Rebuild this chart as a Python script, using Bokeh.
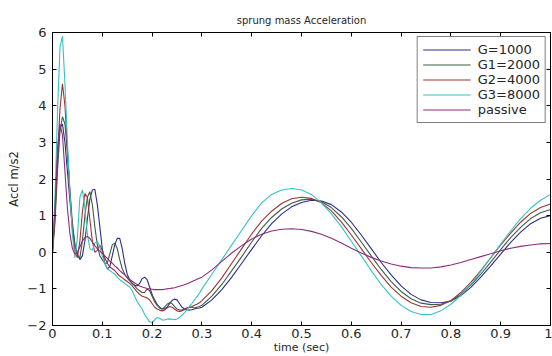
from bokeh.plotting import figure
from bokeh.models import FixedTicker, NumeralTickFormatter, LinearAxis, Legend, LegendItem, Range1d
from bokeh.embed import file_html
from bokeh.resources import INLINE

# ---------------- data ----------------
time_s = [
    0.000, 0.005, 0.010, 0.015, 0.020, 0.025, 0.030, 0.035, 0.040, 0.045,
    0.050, 0.055, 0.060, 0.065, 0.070, 0.075, 0.080, 0.085, 0.090, 0.095,
    0.100, 0.105, 0.110, 0.115, 0.120, 0.125, 0.130, 0.135, 0.140, 0.145,
    0.150, 0.155, 0.160, 0.165, 0.170, 0.175, 0.180, 0.185, 0.190, 0.195,
    0.200, 0.205, 0.210, 0.215, 0.220, 0.225, 0.230, 0.235, 0.240, 0.245,
    0.250, 0.255, 0.260, 0.265, 0.270, 0.275, 0.280, 0.285, 0.290, 0.295,
    0.300,
    0.32, 0.34, 0.36, 0.38, 0.40, 0.42, 0.44, 0.46, 0.48, 0.50,
    0.52, 0.54, 0.56, 0.58, 0.60, 0.62, 0.64, 0.66, 0.68, 0.70,
    0.72, 0.74, 0.76, 0.78, 0.80, 0.82, 0.84, 0.86, 0.88, 0.90,
    0.92, 0.94, 0.96, 0.98, 1.00,
]

acc_g1000 = [
    0, 1.1, 2.5, 3.4, 3.5, 3.0, 2.2, 1.4, 0.7, 0.2,
    -0.05, -0.2, -0.1, 0.3, 0.9, 1.45, 1.7, 1.72, 1.3, 0.7,
    0.1, -0.3, -0.45, -0.4, -0.1, 0.2, 0.38, 0.38, 0.1, -0.3,
    -0.6, -0.75, -0.85, -0.9, -0.92, -0.85, -0.72, -0.68, -0.75, -0.95,
    -1.15, -1.3, -1.42, -1.5, -1.55, -1.55, -1.5, -1.4, -1.32, -1.28,
    -1.3, -1.4, -1.5, -1.55, -1.57, -1.58, -1.57, -1.55, -1.53, -1.52,
    -1.5,
    -1.3, -1.02, -0.68, -0.3, 0.08, 0.45, 0.78, 1.04, 1.24, 1.36,
    1.42, 1.4, 1.3, 1.1, 0.82, 0.47, 0.1, -0.28, -0.62, -0.92,
    -1.15, -1.3, -1.37, -1.38, -1.33, -1.18, -0.96, -0.68, -0.37, -0.05,
    0.27, 0.55, 0.78, 0.93, 1.0,
]

acc_g2000 = [
    0, 0.8, 2.2, 3.3, 3.7, 3.5, 2.7, 1.7, 0.8, 0.2,
    -0.1, -0.15, 0.3, 1.0, 1.5, 1.65, 1.3, 0.7, 0.2, -0.1,
    -0.2, -0.3, -0.3, -0.05, 0.2, 0.25, 0.1, -0.2, -0.45, -0.6,
    -0.7, -0.78, -0.85, -0.92, -1.0, -1.05, -1.1, -1.1, -1.0, -1.05,
    -1.2, -1.35, -1.45, -1.52, -1.55, -1.5, -1.42, -1.38, -1.4, -1.48,
    -1.55, -1.58, -1.58, -1.55, -1.52, -1.5, -1.5, -1.52, -1.5, -1.48,
    -1.45,
    -1.2, -0.88, -0.5, -0.12, 0.28, 0.65, 0.95, 1.18, 1.34, 1.43,
    1.45, 1.38, 1.22, 0.97, 0.65, 0.28, -0.1, -0.47, -0.8, -1.07,
    -1.27, -1.39, -1.43, -1.42, -1.33, -1.15, -0.9, -0.6, -0.27, 0.07,
    0.4, 0.68, 0.92, 1.08, 1.17,
]

acc_g4000 = [
    0, 1.0, 2.6, 3.9, 4.6, 4.0, 2.8, 1.6, 0.6, 0.0,
    -0.15, 0.3, 1.1, 1.6, 1.5, 0.9, 0.3, 0.0, 0.05, 0.2,
    0.05, -0.15, -0.3, -0.4, -0.45, -0.5, -0.58, -0.65, -0.7, -0.75,
    -0.8, -0.85, -0.92, -1.0, -1.08, -1.15, -1.2, -1.22, -1.25, -1.3,
    -1.4, -1.5, -1.55, -1.58, -1.6, -1.58, -1.52, -1.48, -1.5, -1.55,
    -1.6, -1.62, -1.6, -1.57, -1.53, -1.5, -1.48, -1.45, -1.42, -1.38,
    -1.32,
    -1.05, -0.7, -0.3, 0.1, 0.5, 0.85, 1.12, 1.33, 1.46, 1.5,
    1.47, 1.35, 1.13, 0.83, 0.47, 0.1, -0.28, -0.63, -0.95, -1.2,
    -1.38, -1.48, -1.5, -1.45, -1.32, -1.1, -0.82, -0.5, -0.15, 0.2,
    0.52, 0.82, 1.06, 1.22, 1.32,
]

acc_g8000 = [
    0, 1.5, 3.8, 5.6, 5.9, 4.6, 3.0, 1.6, 0.5, -0.15,
    0.4, 1.5, 1.7, 1.2, 0.5, 0.1, 0.05, 0.25, 0.3, 0.15,
    -0.1, -0.3, -0.45, -0.5, -0.55, -0.6, -0.68, -0.75, -0.8, -0.85,
    -0.9, -0.95, -1.05, -1.2, -1.35, -1.45, -1.55, -1.7, -1.8, -1.9,
    -1.92, -1.85, -1.78, -1.8, -1.85, -1.85, -1.83, -1.82, -1.83, -1.84,
    -1.82, -1.78, -1.72, -1.65, -1.57, -1.47, -1.4, -1.3, -1.22, -1.12,
    -1.0,
    -0.6, -0.2, 0.2, 0.6, 1.0, 1.35, 1.58, 1.7, 1.74, 1.7,
    1.58, 1.35, 1.05, 0.7, 0.3, -0.1, -0.5, -0.88, -1.2, -1.45,
    -1.62, -1.7, -1.7, -1.6, -1.42, -1.18, -0.88, -0.52, -0.15, 0.22,
    0.58, 0.92, 1.2, 1.42, 1.58,
]

acc_passive = [
    0, 1.2, 2.8, 3.5, 3.2, 2.2, 1.2, 0.5, 0.1, -0.05,
    0.0, 0.15, 0.3, 0.4, 0.43, 0.38, 0.28, 0.18, 0.1, 0.03,
    -0.03, -0.1, -0.17, -0.24, -0.3, -0.37, -0.43, -0.5, -0.56, -0.62,
    -0.68, -0.74, -0.79, -0.84, -0.88, -0.92, -0.95, -0.97, -0.99, -1.0,
    -1.01, -1.02, -1.02, -1.02, -1.02, -1.01, -1.0, -0.99, -0.98, -0.97,
    -0.95, -0.93, -0.91, -0.89, -0.86, -0.83, -0.8, -0.77, -0.74, -0.71,
    -0.68,
    -0.48, -0.25, -0.02, 0.18, 0.36, 0.49, 0.58, 0.63, 0.64, 0.62,
    0.57, 0.49, 0.38, 0.25, 0.11, -0.02, -0.14, -0.24, -0.32, -0.38,
    -0.42, -0.43, -0.43, -0.4, -0.35, -0.28, -0.2, -0.12, -0.04, 0.04,
    0.11, 0.16, 0.2, 0.23, 0.24,
]

series_names = ["G=1000", "G1=2000", "G2=4000", "G3=8000", "passive"]
series_values = [acc_g1000, acc_g2000, acc_g4000, acc_g8000, acc_passive]
series_colors = ["#2a2f86", "#3d5e44", "#9c3434", "#36c2c4", "#8c2d7e"]

x_ticks = [0, 0.1, 0.2, 0.3, 0.4, 0.5, 0.6, 0.7, 0.8, 0.9, 1]
y_ticks = [-2, -1, 0, 1, 2, 3, 4, 5, 6]

title_text = "sprung mass Acceleration"
x_label = "time (sec)"
y_label = "Accl m/s2"

# ---------------- figure ----------------
FONT = "DejaVu Sans"
TXT = "#262626"

p = figure(width=552, height=356, output_backend="svg", toolbar_location=None,
           x_range=Range1d(0, 1), y_range=Range1d(-2, 6),
           min_border_left=52, min_border_right=2, min_border_top=32, min_border_bottom=31,
           background_fill_color="white", border_fill_color="white")

p.title.text = title_text
p.title.align = "center"
p.title.text_font = FONT
p.title.text_font_size = "10px"
p.title.text_font_style = "normal"
p.title.text_color = TXT
p.title.standoff = 14

p.grid.visible = False
p.outline_line_color = "black"
p.outline_line_width = 1

for ax in (p.xaxis[0], p.yaxis[0]):
    ax.major_tick_in = 4
    ax.major_tick_out = 0
    ax.minor_tick_in = 0
    ax.minor_tick_out = 0
    ax.axis_line_color = "black"
    ax.major_tick_line_color = "black"
    ax.major_label_text_font = FONT
    ax.major_label_text_font_size = "13px"
    ax.major_label_text_color = TXT
    ax.axis_label_text_font = FONT
    ax.axis_label_text_font_style = "normal"
    ax.axis_label_text_color = TXT

p.xaxis[0].ticker = FixedTicker(ticks=x_ticks)
p.xaxis[0].formatter = NumeralTickFormatter(format="0.[0]")
p.xaxis[0].major_label_standoff = 3
p.xaxis[0].axis_label = x_label
p.xaxis[0].axis_label_text_font_size = "11px"
p.xaxis[0].axis_label_standoff = 0

p.yaxis[0].ticker = FixedTicker(ticks=y_ticks)
p.yaxis[0].major_label_standoff = 6
p.yaxis[0].axis_label = y_label
p.yaxis[0].axis_label_text_font_size = "11.5px"
p.yaxis[0].axis_label_standoff = 3

# tick marks only (no labels) on the top and right edges, as in the box-style reference
for loc, tk in (("above", x_ticks), ("right", y_ticks)):
    ax = LinearAxis(ticker=FixedTicker(ticks=tk))
    ax.major_tick_in = 4
    ax.major_tick_out = 0
    ax.minor_tick_in = 0
    ax.minor_tick_out = 0
    ax.major_label_text_color = None
    ax.major_label_text_alpha = 0
    ax.major_label_text_font_size = "1px"
    ax.major_label_standoff = 0
    ax.axis_line_color = "black"
    p.add_layout(ax, loc)

renderers = []
for name, vals, col in zip(series_names, series_values, series_colors):
    r = p.line(time_s, vals, line_color=col, line_width=1.1)
    renderers.append((name, r))

legend = Legend(items=[LegendItem(label=n, renderers=[r]) for n, r in renderers],
                location="top_right")
legend.margin = 4
legend.padding = 5
legend.spacing = 0
legend.glyph_width = 48
legend.glyph_height = 13
legend.label_height = 13
legend.label_standoff = 7
legend.label_text_font = FONT
legend.label_text_font_size = "13px"
legend.label_text_color = TXT
legend.border_line_color = "black"
legend.border_line_width = 1
legend.background_fill_color = "white"
legend.background_fill_alpha = 1.0
p.add_layout(legend)

open("out.html", "w").write(file_html(p, INLINE))
